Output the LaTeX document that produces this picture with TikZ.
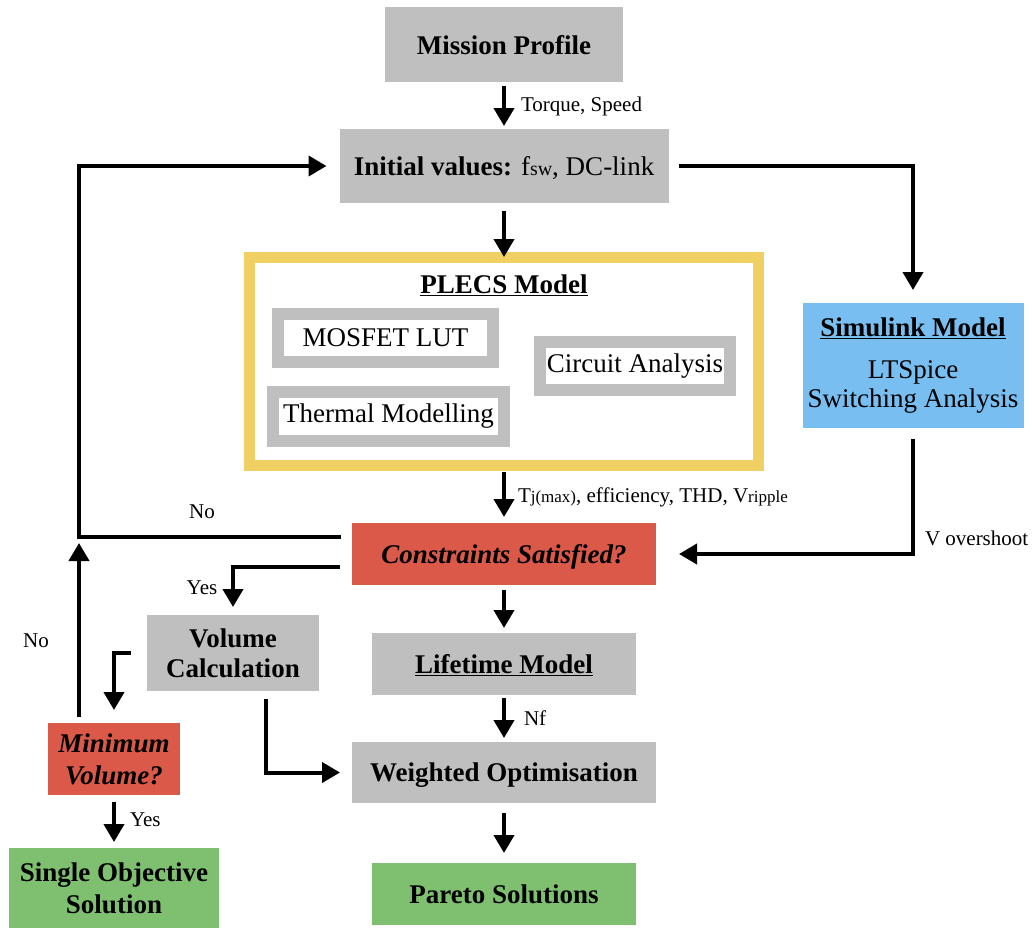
\documentclass[tikz,border=0pt]{standalone}
\usepackage{fontspec}
\setmainfont{Liberation Serif}[
  BoldFont={Liberation Serif Bold},
  ItalicFont={Liberation Serif Italic},
  BoldItalicFont={Liberation Serif Bold Italic}]
\usepackage{xcolor}
\usetikzlibrary{positioning,arrows.meta,calc}

\definecolor{blockgray}{RGB}{191,191,191}
\definecolor{checkred}{RGB}{218,89,72}
\definecolor{donegreen}{RGB}{126,192,112}
\definecolor{simblue}{RGB}{120,190,240}
\definecolor{plecsyellow}{RGB}{240,208,98}

\newcommand{\bigtxt}{\fontsize{27}{32}\selectfont}
\newcommand{\smalltxt}{\fontsize{21}{25}\selectfont}
\newcommand{\subtxt}[2][17]{{\fontsize{#1}{#1}\selectfont #2}}

\begin{document}
\begin{tikzpicture}[x=1pt, y=-1pt, >={Triangle[width=20pt,length=18pt]},
    every node/.style={align=center, inner sep=0pt, outer sep=0pt},
    block/.style={fill=blockgray, font=\bigtxt\bfseries, text depth=0pt},
    check/.style={fill=checkred, font=\bigtxt\bfseries\itshape, text depth=0pt},
    final/.style={fill=donegreen, font=\bigtxt\bfseries, text depth=0pt},
    part/.style={draw=blockgray, line width=12pt, fill=white, font=\bigtxt},
    flow/.style={->, line width=4pt},
    note/.style={font=\smalltxt, anchor=west}]
  \useasboundingbox (0,0) rectangle (1032,929);

  % main column
  \node[block, minimum width=238, minimum height=75] (mission)
        at (504,44.5) {Mission Profile};
  \node[block, minimum width=329, minimum height=74] (init)
        at (504,166) {Initial values: \mdseries f\subtxt[20]{sw}, DC-link};

  \node[draw=plecsyellow, line width=11pt, minimum width=509, minimum height=208] (plecs)
        at (504,361) {};
  \node[font=\bigtxt\bfseries] (plecstitle) at (504,285) {\underline{PLECS Model}};
  \node[part, minimum width=215, minimum height=48] (lut) at (385.5,338) {MOSFET LUT};
  \node[part, minimum width=190, minimum height=48] (circuit) at (635,366) {Circuit Analysis};
  \node[part, minimum width=231, minimum height=49] (thermal) at (388.5,416.5) {Thermal Modelling};

  \node[check, minimum width=304, minimum height=62] (cons) at (504,554) {Constraints Satisfied?};
  \node[block, minimum width=264, minimum height=62] (life) at (504,664) {\underline{Lifetime Model}};
  \node[block, minimum width=304, minimum height=61] (wopt) at (504,772.5) {Weighted Optimisation};
  \node[final, minimum width=264, minimum height=62] (pareto) at (504,894) {Pareto Solutions};

  % side branches
  \node[fill=simblue, font=\bigtxt, minimum width=221, minimum height=125] (sim)
        at (913,365.5) {\textbf{\underline{Simulink Model}}\\[10pt]LTSpice\\[-3pt]Switching Analysis};
  \node[block, minimum width=172, minimum height=76] (vol) at (233,653) {Volume\\[-2pt]Calculation};
  \node[check, minimum width=132, minimum height=72] (minvol) at (114,759) {Minimum\\Volume?};
  \node[final, minimum width=210, minimum height=80] (single) at (114,888) {Single Objective\\Solution};

  \coordinate (nobend) at (79,537);

  % arrows
  \draw[flow, shorten <=4pt, shorten >=3pt] (mission) -- (init);
  \draw[flow, shorten <=8pt, shorten >=0pt] (init) -- (plecs);
  \draw[flow, shorten <=7pt, shorten >=6pt] (plecs) -- (cons);
  \draw[flow, shorten <=5pt, shorten >=5pt] (cons) -- (life);
  \draw[flow, shorten <=3pt, shorten >=4pt] (life) -- (wopt);
  \draw[flow, shorten <=10pt, shorten >=10pt] (wopt) -- (pareto);

  \draw[flow, shorten <=10pt, shorten >=13pt] (init.east) -| (sim.north);
  \draw[flow, shorten <=11pt, shorten >=23pt] (sim.south) |- (cons.east);
  \draw[flow, shorten >=13pt] ([yshift=17pt]cons.west) ++(-11,0) -- (nobend) |- (init.west);
  \draw[flow, shorten >=8pt] ([yshift=-13pt]cons.west) ++(-12,0) -| (vol.north);
  \draw[flow, shorten <=16pt, shorten >=13pt] (vol.west) -| (minvol.north);
  \draw[flow, shorten <=6pt, shorten >=6pt] ([xshift=-35pt]minvol.north) -- (nobend);
  \draw[flow, shorten <=7pt, shorten >=6pt] (minvol) -- (single);
  \draw[flow, shorten <=8pt, shorten >=12pt] ([xshift=33pt]vol.south) |- (wopt.west);

  % labels
  \node[note] (torque) at (521,106) {Torque, Speed};
  \node[note] (limits) at (518,497) {T\subtxt{j(max)}, efficiency, THD, V\subtxt{ripple}};
  \node[note] (nf) at (524,718) {Nf};
  \node[note] (overshoot) at (925,538) {V overshoot};
  \node[note, anchor=center] (notop) at (202,512) {No};
  \node[note, anchor=center] (noleft) at (36,641) {No};
  \node[note, anchor=center] (yesvol) at (202,588) {Yes};
  \node[note] (yesmin) at (130,820) {Yes};
\end{tikzpicture}
\end{document}
